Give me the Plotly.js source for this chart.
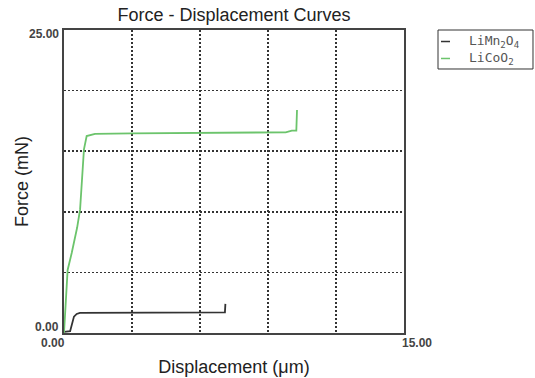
<!DOCTYPE html>
<html>
<head>
<meta charset="utf-8">
<script src="https://cdn.plot.ly/plotly-3.0.1.min.js"></script>
<style>html,body{margin:0;padding:0;background:#fff;}#chart{width:535px;height:378px;}</style>
</head>
<body>
<div id="chart"></div>
<script>
// Series names
const seriesNames = ["LiMn<sub>2</sub>O<sub>4</sub>", "LiCoO<sub>2</sub>"];
// LiMn2O4 (black)
const mnX = [0.00, 0.27, 0.44, 0.56, 0.70, 3.00, 6.00, 7.10, 7.12];
const mnY = [0.10, 0.15, 1.35, 1.57, 1.66, 1.66, 1.68, 1.70, 2.40];
// LiCoO2 (green)
const coX = [0.00, 0.13, 0.16, 0.34, 0.58, 0.71, 0.88, 1.00, 1.37, 3.00, 6.00, 9.03, 9.78, 10.05, 10.25, 10.28];
const coY = [0.00, 3.80, 5.20, 6.60, 8.70, 10.2, 15.15, 16.25, 16.43, 16.47, 16.50, 16.56, 16.56, 16.70, 16.70, 18.40];
// Axis grid positions and tick labels
const xGrid = [0, 3, 6, 9, 12, 15];
const yGrid = [0, 5, 10, 15, 20, 25];
const xTickVals = [0, 15];
const xTickText = ["0.00", "15.00"];
const yTickVals = [0, 25];
const yTickText = ["0.00", "25.00"];
const lineColors = ["#333333", "#6cc46c"];

const traces = [
  {x: mnX, y: mnY, type: "scatter", mode: "lines", name: seriesNames[0],
   line: {color: lineColors[0], width: 1.8}, showlegend: false},
  {x: coX, y: coY, type: "scatter", mode: "lines", name: seriesNames[1],
   line: {color: lineColors[1], width: 1.8}, showlegend: false}
];

const tickFont = {family: "Liberation Sans Narrow, Liberation Sans", size: 12, color: "#444", weight: "bold"};
const annotations = [];
// x tick labels
annotations.push({x: xTickVals[0], y: 0, xref: "x", yref: "paper", text: xTickText[0], showarrow: false,
  xanchor: "center", yanchor: "middle", xshift: -11, yshift: -10, font: tickFont});
annotations.push({x: xTickVals[1], y: 0, xref: "x", yref: "paper", text: xTickText[1], showarrow: false,
  xanchor: "center", yanchor: "middle", xshift: 13, yshift: -10, font: tickFont});
// y tick labels
annotations.push({x: 0, y: yTickVals[0], xref: "paper", yref: "y", text: yTickText[0], showarrow: false,
  xanchor: "right", yanchor: "middle", xshift: -3, yshift: 6, font: tickFont});
annotations.push({x: 0, y: yTickVals[1], xref: "paper", yref: "y", text: yTickText[1], showarrow: false,
  xanchor: "right", yanchor: "middle", xshift: -3, yshift: -4, font: tickFont});
// legend texts (rows at y = 41.5px and 58.5px)
const legFont = {family: "DejaVu Sans Mono", size: 13, color: "#555"};
annotations.push({x: 1.1853, y: 0.962, xref: "paper", yref: "paper", text: seriesNames[0], showarrow: false,
  xanchor: "left", yanchor: "middle", font: legFont});
annotations.push({x: 1.1853, y: 0.906, xref: "paper", yref: "paper", text: seriesNames[1], showarrow: false,
  xanchor: "left", yanchor: "middle", font: legFont});

const shapes = [
  {type: "rect", xref: "paper", yref: "paper", x0: 1.1, x1: 1.3794, y0: 0.8713, y1: 1.0,
   line: {color: "#333", width: 1}, fillcolor: "rgba(0,0,0,0)"},
  {type: "line", xref: "paper", yref: "paper", x0: 1.1088, x1: 1.1353, y0: 0.962, y1: 0.962,
   line: {color: lineColors[0], width: 1.5}},
  {type: "line", xref: "paper", yref: "paper", x0: 1.1088, x1: 1.1353, y0: 0.906, y1: 0.906,
   line: {color: lineColors[1], width: 1.5}}
];

const layout = {
  width: 535, height: 378,
  margin: {l: 64, r: 131, t: 30, b: 45},
  paper_bgcolor: "#fff", plot_bgcolor: "#fff",
  font: {family: "Liberation Sans, Arial", color: "#222"},
  title: {text: "Force - Displacement Curves", font: {size: 18, color: "#222"},
          x: 0.5, xref: "paper", y: 1 - 15/378, yref: "container", yanchor: "middle"},
  xaxis: {range: [0, 15], tickvals: xGrid, showticklabels: false, ticks: "",
          showgrid: true, gridcolor: "#333", gridwidth: 1.5, griddash: "2px,2px",
          zeroline: false, showline: true, mirror: true, linecolor: "#444", linewidth: 2,
          title: {text: "Displacement (μm)", font: {size: 18, color: "#222"}, standoff: 26},
          automargin: false, fixedrange: true},
  yaxis: {range: [0, 25], tickvals: yGrid, showticklabels: false, ticks: "",
          showgrid: true, gridcolor: "#333", gridwidth: 1.5, griddash: "2px,2px",
          zeroline: false, showline: true, mirror: true, linecolor: "#444", linewidth: 2,
          title: {text: "Force (mN)", font: {size: 18, color: "#222"}, standoff: 29},
          automargin: false, fixedrange: true},
  showlegend: false,
  annotations: annotations,
  shapes: shapes
};

Plotly.newPlot("chart", traces, layout, {displayModeBar: false, staticPlot: true});
</script>
</body>
</html>
